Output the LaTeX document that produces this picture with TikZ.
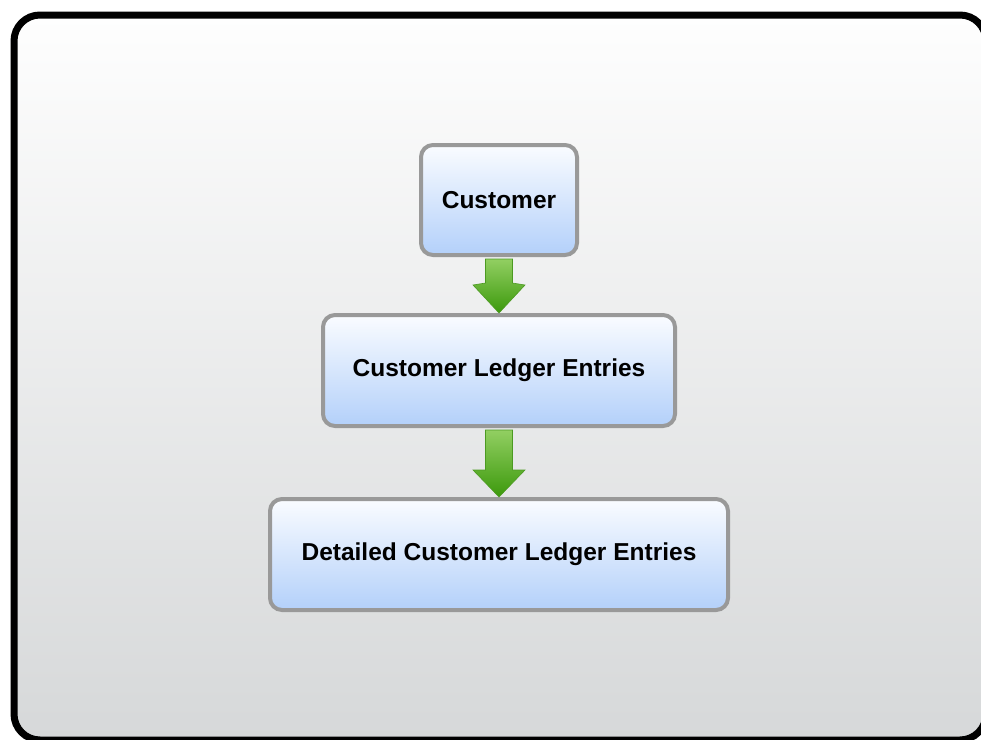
\documentclass[tikz,border=0pt]{standalone}
\usepackage{fontspec}
\setmainfont{Liberation Sans}
\definecolor{panelTop}{HTML}{FEFEFE}
\definecolor{panelBottom}{HTML}{D6D8D9}
\definecolor{boxTop}{HTML}{FAFCFF}
\definecolor{boxBottom}{HTML}{B3D0FA}
\definecolor{boxLine}{HTML}{999999}
\definecolor{arrowTop}{HTML}{92CF62}
\definecolor{arrowBottom}{HTML}{3C990C}
\definecolor{arrowLine}{HTML}{4C9A22}
\begin{document}
\begin{tikzpicture}[x=1pt, y=-1pt,
    table/.style={rectangle, draw=boxLine, line width=4pt, rounded corners=12pt,
      top color=boxTop, bottom color=boxBottom, align=center,
      minimum height=111pt, inner sep=0,
      font=\fontsize{24.5}{29}\selectfont\bfseries},
    flow/.style={draw=arrowLine, line width=0.6pt, top color=arrowTop, bottom color=arrowBottom}]
  \useasboundingbox (0, 0) rectangle (981, 739);
  % panel
  \path[draw=black, line width=7pt, rounded corners=26pt,
    top color=panelTop, bottom color=panelBottom] (14, 15) rectangle (986, 740);

  \node[table, minimum width=156pt, minimum height=110pt] (customer) at (499, 200) {Customer};
  \node[table, minimum width=352pt] (ledger) at (499, 370.5) {Customer Ledger Entries};
  \node[table, minimum width=458pt] (detailed) at (499, 554.5) {Detailed Customer Ledger Entries};

  % arrows
  \draw[flow] ([xshift=-13.5pt, yshift=-2pt]customer.south) -- ([xshift=13.5pt, yshift=-2pt]customer.south)
    -- ([xshift=13.5pt, yshift=-26pt]customer.south) -- ([xshift=26pt, yshift=28pt]ledger.north)
    -- (ledger.north) -- ([xshift=-26pt, yshift=28pt]ledger.north)
    -- ([xshift=-13.5pt, yshift=-26pt]customer.south) -- cycle;
  \draw[flow] ([xshift=-13.5pt, yshift=-2pt]ledger.south) -- ([xshift=13.5pt, yshift=-2pt]ledger.south)
    -- ([xshift=13.5pt, yshift=-42pt]ledger.south) -- ([xshift=26pt, yshift=27pt]detailed.north)
    -- (detailed.north) -- ([xshift=-26pt, yshift=27pt]detailed.north)
    -- ([xshift=-13.5pt, yshift=-42pt]ledger.south) -- cycle;
\end{tikzpicture}
\end{document}
